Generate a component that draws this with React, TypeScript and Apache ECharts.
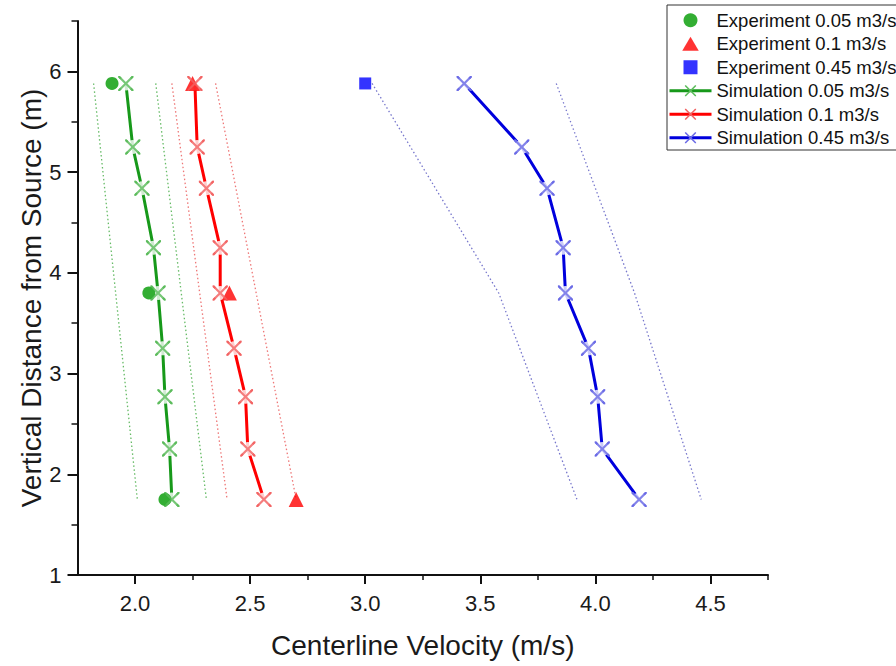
import React, { useEffect, useRef } from 'react';
import * as echarts from 'echarts';

// Heights (m) at which the simulation was sampled
const simHeights = [5.88, 5.25, 4.84, 4.25, 3.8, 3.25, 2.77, 2.25, 1.75];
// Simulated centerline velocities (m/s)
const simGreen = [1.96, 1.99, 2.03, 2.08, 2.1, 2.12, 2.13, 2.15, 2.16];
const simRed = [2.26, 2.27, 2.31, 2.37, 2.37, 2.43, 2.48, 2.49, 2.56];
const simBlue = [3.43, 3.68, 3.79, 3.86, 3.87, 3.97, 4.01, 4.03, 4.19];

// Experiments
const expHeights = [5.88, 3.8, 1.75];
const expGreen = [1.9, 2.06, 2.13];
const expRed = [2.25, 2.41, 2.7];
const expBlueHeights = [5.88];
const expBlue = [3.0];

// Dotted bound lines
const boundHeights2 = [5.88, 1.75];
const greenLow = [1.82, 2.01];
const greenHigh = [2.09, 2.31];
const redLow = [2.16, 2.4];
const redHigh = [2.35, 2.7];
const boundHeights3 = [5.88, 3.8, 1.75];
const blueLow = [3.03, 3.58, 3.92];
const blueHigh = [3.83, 4.17, 4.46];

// Axis ticks
const xTickValues = [2.0, 2.5, 3.0, 3.5, 4.0, 4.5];
const xMinorTicks = [2.25, 2.75, 3.25, 3.75, 4.25, 4.75];
const yTickValues = [1, 2, 3, 4, 5, 6];
const yMinorTicks = [1.5, 2.5, 3.5, 4.5, 5.5, 6.5];

const legendNames = [
  'Experiment 0.05 m3/s',
  'Experiment 0.1 m3/s',
  'Experiment 0.45 m3/s',
  'Simulation 0.05 m3/s',
  'Simulation 0.1 m3/s',
  'Simulation 0.45 m3/s',
];

const pair = (xs: number[], ys: number[]) => xs.map((x, i) => [x, ys[i]]);

const a = 2.0;
const X_PATH =
  'path://M0,0L' + a + ',0L10,' + (10 - a) + 'L' + (20 - a) + ',0L20,0L20,' + a +
  'L' + (10 + a) + ',10L20,' + (20 - a) + 'L20,20L' + (20 - a) + ',20L10,' + (10 + a) +
  'L' + a + ',20L0,20L0,' + (20 - a) + 'L' + (10 - a) + ',10L0,' + a + 'Z';

const TRI_PATH = 'path://M10,0L20,17L0,17Z';
const SQ_PATH = 'path://M0,0L10,0L10,10L0,10Z';

const FONT = '"Liberation Sans", Arial, sans-serif';

export default function App() {
  const ref = useRef<HTMLDivElement>(null);
  useEffect(() => {
    if (!ref.current) return;
    const chart = echarts.init(ref.current, undefined, { renderer: 'svg' });

    const dotted = (data: number[][], color: string) => ({
      type: 'line',
      data,
      symbol: 'none',
      silent: true,
      lineStyle: { type: [1.5, 2.5], width: 1.3, color },
      z: 1,
    });
    const simLine = (name: string, data: number[][], lineColor: string, xColor: string) => ({
      type: 'line',
      name,
      data,
      symbol: X_PATH,
      symbolSize: 15,
      showSymbol: true,
      lineStyle: { color: lineColor, width: 3 },
      itemStyle: { color: xColor },
      z: 2,
    });
    const gap = (data: number[][]) => ({
      type: 'scatter',
      data,
      symbol: 'circle',
      symbolSize: 14,
      silent: true,
      itemStyle: { color: '#ffffff' },
      z: 3,
    });
    const xMarks = (data: number[][], xColor: string) => ({
      type: 'scatter',
      data,
      symbol: X_PATH,
      symbolSize: 15,
      silent: true,
      itemStyle: { color: xColor },
      z: 5,
    });
    const exp = (name: string, data: number[][], symbol: string, size: number, color: string) => ({
      type: 'scatter',
      name,
      data,
      symbol,
      symbolSize: size,
      itemStyle: { color },
      z: 4,
    });

    const gData = pair(simGreen, simHeights);
    const rData = pair(simRed, simHeights);
    const bData = pair(simBlue, simHeights);

    const cG = '#17991a', cGx = '#5cbc5c';
    const cR = '#ff0000', cRx = '#f26464';
    const cB = '#0000dd', cBx = '#6c6ce6';

    chart.setOption({
      animation: false,
      backgroundColor: '#ffffff',
      textStyle: { fontFamily: FONT },
      grid: { left: 77.5, right: 128, top: 21, bottom: 91, containLabel: false, outerBoundsMode: 'none' },
      legend: {
        data: [
          { name: legendNames[0], icon: 'circle' },
          { name: legendNames[1], icon: TRI_PATH },
          { name: legendNames[2], icon: SQ_PATH },
          { name: legendNames[3] },
          { name: legendNames[4] },
          { name: legendNames[5] },
        ],
        orient: 'vertical',
        left: 667,
        top: 5,
        itemWidth: 42,
        itemHeight: 14,
        itemGap: 1,
        symbolKeepAspect: true,
        selectedMode: false,
        borderColor: '#333',
        borderWidth: 1,
        padding: [4, 12, 1, 1],
        backgroundColor: '#fff',
        lineStyle: { width: 3 },
        textStyle: { fontSize: 18.5, lineHeight: 22.5, color: '#111', fontFamily: FONT },
      },
      xAxis: [
        {
          type: 'value',
          position: 'bottom',
          min: 1.75,
          max: 4.75,
          name: 'Centerline Velocity (m/s)',
          nameLocation: 'middle',
          nameGap: 56,
          nameMoveOverlap: false,
          nameTextStyle: { fontSize: 28, color: '#1a1a1a', fontFamily: FONT },
          axisLine: { show: true, onZero: false, lineStyle: { color: '#111', width: 2 } },
          axisTick: { show: true, inside: false, length: 9, customValues: xTickValues, lineStyle: { color: '#111', width: 2 } },
          axisLabel: {
            show: true,
            customValues: xTickValues,
            margin: 17,
            fontSize: 22,
            color: '#1a1a1a',
            fontFamily: FONT,
            formatter: (v: number) => v.toFixed(1),
          },
          splitLine: { show: false },
        },
        {
          type: 'value',
          position: 'bottom',
          min: 1.75,
          max: 4.75,
          axisLine: { show: false },
          axisTick: { show: true, inside: false, length: 5, customValues: xMinorTicks, lineStyle: { color: '#111', width: 1.5 } },
          axisLabel: { show: false },
          splitLine: { show: false },
        },
      ],
      yAxis: [
        {
          type: 'value',
          position: 'left',
          min: 1,
          max: 6.5,
          name: 'Vertical Distance from Source (m)',
          nameLocation: 'middle',
          nameGap: 32,
          nameMoveOverlap: false,
          nameTextStyle: { fontSize: 28, color: '#1a1a1a', fontFamily: FONT },
          axisLine: { show: true, onZero: false, lineStyle: { color: '#111', width: 2 } },
          axisTick: { show: true, inside: false, length: 10, customValues: yTickValues, lineStyle: { color: '#111', width: 2 } },
          axisLabel: {
            show: true,
            customValues: yTickValues,
            margin: 16,
            fontSize: 22,
            color: '#1a1a1a',
            fontFamily: FONT,
            formatter: (v: number) => String(Math.round(v)),
          },
          splitLine: { show: false },
        },
        {
          type: 'value',
          position: 'left',
          min: 1,
          max: 6.5,
          axisLine: { show: false },
          axisTick: { show: true, inside: false, length: 6, customValues: yMinorTicks, lineStyle: { color: '#111', width: 1.5 } },
          axisLabel: { show: false },
          splitLine: { show: false },
        },
      ],
      series: [
        dotted(pair(greenLow, boundHeights2), '#66bb66'),
        dotted(pair(greenHigh, boundHeights2), '#66bb66'),
        dotted(pair(redLow, boundHeights2), '#ee7777'),
        dotted(pair(redHigh, boundHeights2), '#ee7777'),
        dotted(pair(blueLow, boundHeights3), '#7777cc'),
        dotted(pair(blueHigh, boundHeights3), '#7777cc'),
        simLine(legendNames[3], gData, cG, cGx),
        simLine(legendNames[4], rData, cR, cRx),
        simLine(legendNames[5], bData, cB, cBx),
        gap(gData),
        gap(rData),
        gap(bData),
        exp(legendNames[0], pair(expGreen, expHeights), 'circle', 13, '#009a00'),
        exp(legendNames[1], pair(expRed, expHeights), 'triangle', 15, '#ff0000'),
        exp(legendNames[2], pair(expBlue, expBlueHeights), 'rect', 12, '#0000ff'),
        xMarks(gData, cGx),
        xMarks(rData, cRx),
        xMarks(bData, cBx),
      ],
    });
    return () => chart.dispose();
  }, []);
  return (
    <div
      ref={ref}
      style={{ position: 'fixed', left: 0, top: 0, width: 896, height: 666, background: '#fff' }}
    />
  );
}
